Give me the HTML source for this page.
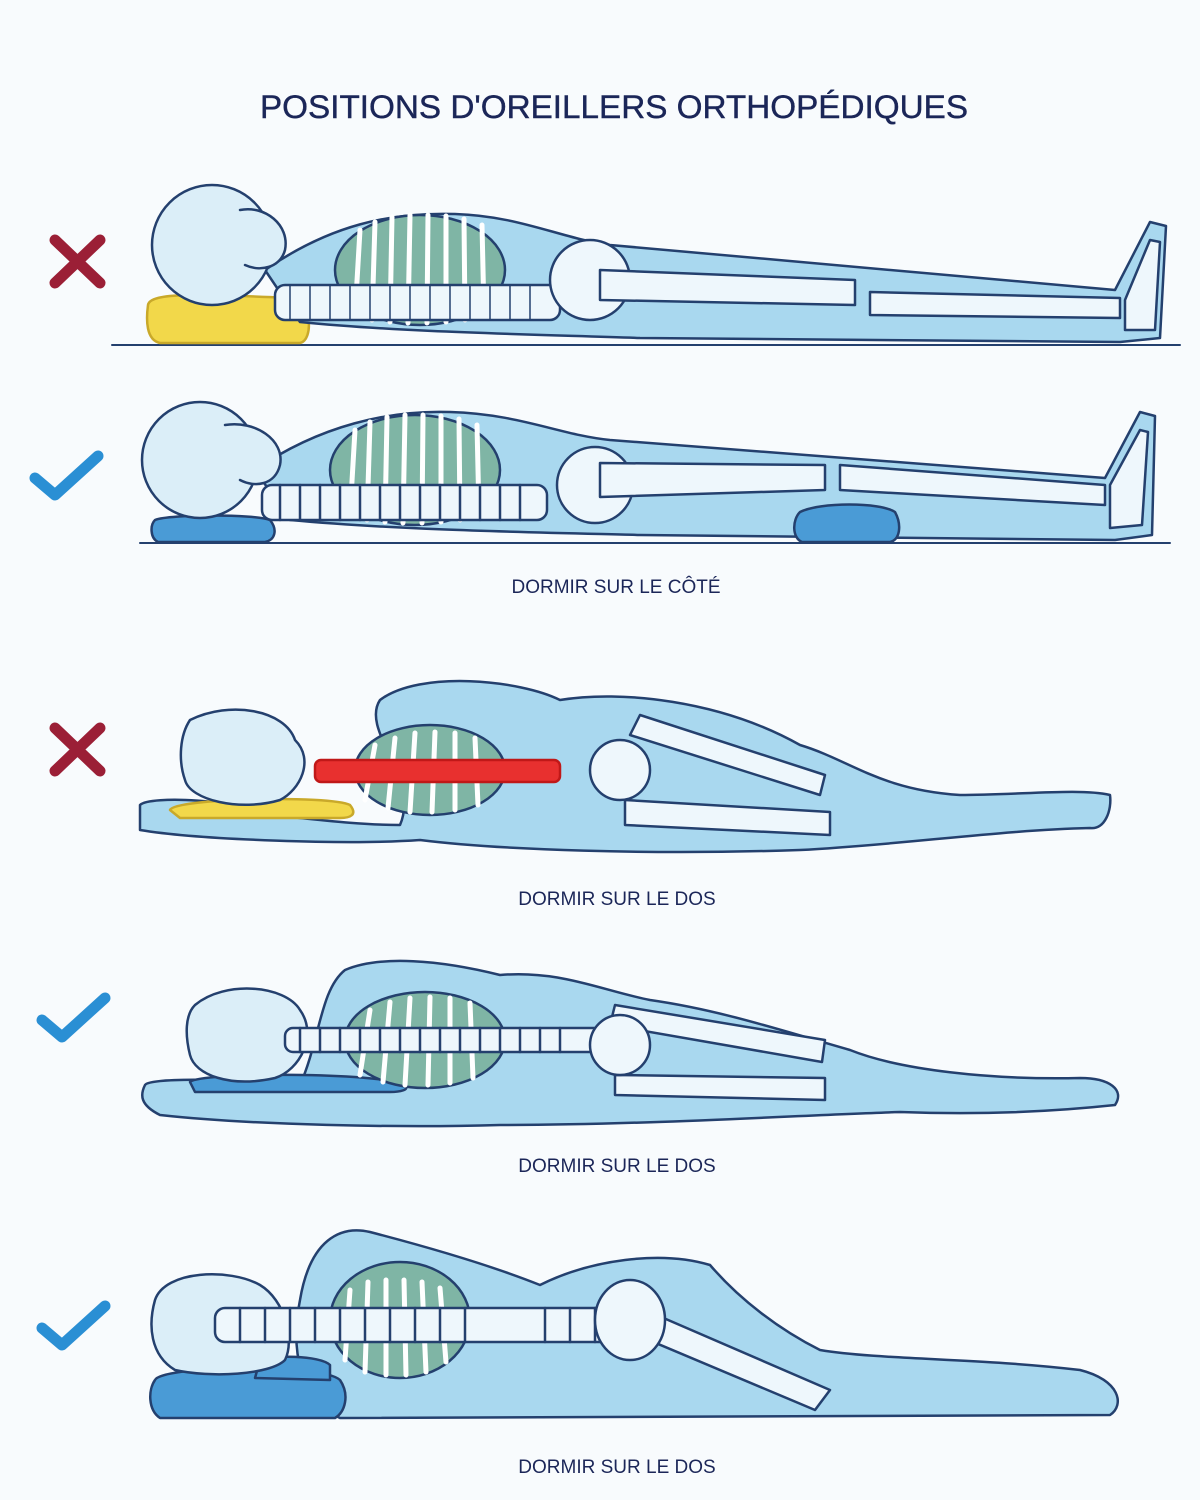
<!DOCTYPE html>
<html><head><meta charset="utf-8"><style>
html,body{margin:0;padding:0;background:#f8fbfd;}
svg{display:block}
text{font-family:"Liberation Sans",sans-serif;fill:#1b2658}
</style></head><body>
<svg width="1200" height="1500" viewBox="0 0 1200 1500" xmlns="http://www.w3.org/2000/svg">
<rect width="1200" height="1500" fill="#f8fbfd"/>
<text x="614" y="118" font-size="32" text-anchor="middle" textLength="708" lengthAdjust="spacingAndGlyphs" stroke="#1b2658" stroke-width="0.4">POSITIONS D'OREILLERS ORTHOPÉDIQUES</text>

<g stroke="#24406e" stroke-width="2.5" stroke-linejoin="round" stroke-linecap="round">
<!-- ===== Figure 1 ===== -->
<line x1="112" y1="345" x2="1180" y2="345" stroke-width="2"/>
<path d="M148,305 C150,292 200,294 290,298 C312,300 314,340 300,343 L160,343 C146,340 146,320 148,305Z" fill="#f2d84a" stroke="#c9a92a"/>
<path d="M265,270 C330,225 390,212 455,214 C520,216 560,238 610,245 L1115,290 L1150,222 L1166,226 L1160,338 L1120,342 L640,338 C520,334 400,332 300,322 Z" fill="#a9d8ef"/>
<circle cx="212" cy="245" r="60" fill="#dbeef8"/>
<path d="M240,210 C265,205 290,225 285,250 C280,268 260,272 245,265" fill="#dbeef8"/>
<ellipse cx="420" cy="270" rx="85" ry="55" fill="#7fb5a5"/>
<g stroke="#fff" stroke-width="5"><path d="M360,230 L355,315 M375,222 L372,320 M392,217 L390,322 M410,215 L408,323 M428,215 L427,323 M446,216 L446,322 M464,219 L465,320 M482,225 L484,314"/></g>
<rect x="275" y="285" width="285" height="35" rx="10" fill="#eef7fc"/>
<path d="M290,285 L290,320 M310,285 L310,320 M330,285 L330,320 M350,285 L350,320 M370,285 L370,320 M390,285 L390,320 M410,285 L410,320 M430,285 L430,320 M450,285 L450,320 M470,285 L470,320 M490,285 L490,320 M510,285 L510,320 M530,285 L530,320" stroke-width="1.5"/>
<ellipse cx="590" cy="280" rx="40" ry="40" fill="#eef7fc"/>
<path d="M600,270 L855,280 L855,305 L600,300 Z" fill="#eef7fc"/>
<path d="M870,292 L1120,298 L1120,318 L870,315 Z" fill="#eef7fc"/>
<path d="M1125,300 L1150,240 L1160,242 L1155,330 L1125,330 Z" fill="#eef7fc"/>

<!-- ===== Figure 2 ===== -->
<line x1="140" y1="543" x2="1170" y2="543" stroke-width="2"/>
<path d="M155,520 C170,514 255,514 270,520 C278,530 275,540 265,542 L158,542 C150,538 150,525 155,520Z" fill="#4a9bd6"/>
<path d="M255,470 C320,425 390,410 450,412 C520,414 560,435 610,440 L1105,478 L1140,412 L1155,416 L1152,535 L1115,540 L640,535 C520,532 400,530 290,520 Z" fill="#a9d8ef"/>
<path d="M800,512 C820,502 880,502 895,512 C902,525 900,540 890,542 L802,542 C792,538 792,520 800,512Z" fill="#4a9bd6"/>
<circle cx="200" cy="460" r="58" fill="#dbeef8"/>
<path d="M225,425 C255,420 285,440 280,465 C275,485 255,488 240,480" fill="#dbeef8"/>
<ellipse cx="415" cy="470" rx="85" ry="55" fill="#7fb5a5"/>
<g stroke="#fff" stroke-width="5"><path d="M355,430 L350,515 M370,422 L367,520 M387,417 L385,522 M405,415 L403,523 M423,415 L422,523 M441,416 L441,522 M459,419 L460,520 M477,425 L479,514"/></g>
<rect x="262" y="485" width="285" height="35" rx="10" fill="#eef7fc"/>
<path d="M280,485 L280,520 M300,485 L300,520 M320,485 L320,520 M340,485 L340,520 M360,485 L360,520 M380,485 L380,520 M400,485 L400,520 M420,485 L420,520 M440,485 L440,520 M460,485 L460,520 M480,485 L480,520 M500,485 L500,520 M520,485 L520,520"/>
<ellipse cx="595" cy="485" rx="38" ry="38" fill="#eef7fc"/>
<path d="M600,463 L825,465 L825,490 L600,497 Z" fill="#eef7fc"/>
<path d="M840,465 L1105,485 L1105,505 L840,490 Z" fill="#eef7fc"/>
<path d="M1110,485 L1140,430 L1148,432 L1142,525 L1110,528 Z" fill="#eef7fc"/>

<!-- ===== Figure 3 ===== -->
<path d="M140,805 C150,795 240,800 270,815 C320,820 360,825 400,825 C420,780 360,730 380,700 C420,670 520,680 560,700 C620,690 720,700 800,745 C850,760 880,790 960,795 C1020,795 1080,788 1110,795 C1112,810 1105,830 1090,828 C1000,830 900,845 800,850 C650,855 500,850 420,840 C350,845 200,840 140,830 Z" fill="#a9d8ef"/>
<path d="M170,810 C175,798 330,795 350,805 C358,815 350,818 340,818 L180,818 Z" fill="#f2d84a" stroke="#c9a92a"/>
<path d="M190,720 C230,700 285,710 295,740 C315,760 300,790 280,800 C240,812 190,800 185,780 C178,760 180,735 190,720Z" fill="#dbeef8"/>
<ellipse cx="430" cy="770" rx="75" ry="45" fill="#7fb5a5"/>
<g stroke="#fff" stroke-width="5"><path d="M375,745 L365,800 M395,738 L388,808 M415,733 L410,812 M435,732 L432,812 M455,733 L455,810 M475,738 L478,805"/></g>
<rect x="315" y="760" width="245" height="22" rx="6" fill="#e8302f" stroke="#c01818"/>
<path d="M640,715 L825,775 L820,795 L630,735 Z" fill="#eef7fc"/>
<path d="M625,800 L830,812 L830,835 L625,825 Z" fill="#eef7fc"/>
<ellipse cx="620" cy="770" rx="30" ry="30" fill="#eef7fc"/>

<!-- ===== Figure 4 ===== -->
<path d="M145,1085 C150,1078 220,1078 300,1085 C320,1040 320,990 345,970 C380,955 440,960 500,975 C560,970 600,990 650,1000 C720,1010 780,1030 850,1050 C900,1070 990,1080 1080,1078 C1110,1078 1125,1090 1115,1105 C1050,1112 980,1115 900,1112 C800,1115 650,1125 500,1125 C400,1128 250,1125 160,1115 C140,1105 140,1095 145,1085Z" fill="#a9d8ef"/>
<path d="M190,1082 C200,1072 380,1072 405,1085 C410,1090 400,1092 390,1092 L195,1092 Z" fill="#4a9bd6"/>
<path d="M195,1005 C225,980 285,985 300,1010 C318,1035 300,1070 275,1078 C230,1088 195,1075 190,1055 C185,1035 185,1015 195,1005Z" fill="#dbeef8"/>
<ellipse cx="425" cy="1040" rx="80" ry="48" fill="#7fb5a5"/>
<g stroke="#fff" stroke-width="5"><path d="M370,1010 L360,1075 M390,1002 L383,1082 M410,998 L405,1085 M430,997 L428,1085 M450,998 L450,1083 M470,1003 L473,1078"/></g>
<rect x="285" y="1028" width="320" height="24" rx="8" fill="#eef7fc"/>
<path d="M300,1028 L300,1052 M320,1028 L320,1052 M340,1028 L340,1052 M360,1028 L360,1052 M380,1028 L380,1052 M400,1028 L400,1052 M420,1028 L420,1052 M440,1028 L440,1052 M460,1028 L460,1052 M480,1028 L480,1052 M500,1028 L500,1052 M520,1028 L520,1052 M540,1028 L540,1052 M560,1028 L560,1052"/>
<path d="M615,1005 L825,1040 L822,1062 L610,1025 Z" fill="#eef7fc"/>
<path d="M615,1075 L825,1078 L825,1100 L615,1095 Z" fill="#eef7fc"/>
<ellipse cx="620" cy="1045" rx="30" ry="30" fill="#eef7fc"/>

<!-- ===== Figure 5 ===== -->
<path d="M300,1300 C310,1240 340,1225 370,1232 C420,1245 490,1265 540,1285 C590,1260 660,1250 710,1265 C740,1300 780,1330 820,1350 C880,1360 980,1358 1080,1370 C1120,1380 1125,1405 1110,1415 L340,1418 C300,1400 290,1350 300,1300Z" fill="#a9d8ef"/>
<path d="M155,1380 C160,1366 320,1362 340,1380 C350,1395 345,1412 335,1418 L160,1418 C148,1410 148,1390 155,1380Z" fill="#4a9bd6"/>
<path d="M260,1360 C270,1355 320,1355 330,1365 L330,1380 L255,1378 Z" fill="#4a9bd6"/>
<path d="M155,1300 C165,1270 230,1268 260,1285 C285,1300 295,1340 285,1360 C270,1375 210,1378 175,1370 C150,1355 148,1325 155,1300Z" fill="#dbeef8"/>
<ellipse cx="400" cy="1320" rx="70" ry="58" fill="#7fb5a5"/>
<g stroke="#fff" stroke-width="5"><path d="M350,1290 L345,1360 M368,1282 L365,1372 M386,1280 L386,1375 M404,1280 L406,1375 M422,1282 L426,1372 M440,1288 L446,1362"/></g>
<rect x="215" y="1308" width="420" height="34" rx="10" fill="#eef7fc"/>
<path d="M240,1308 L240,1342 M265,1308 L265,1342 M290,1308 L290,1342 M315,1308 L315,1342 M340,1308 L340,1342 M365,1308 L365,1342 M390,1308 L390,1342 M415,1308 L415,1342 M440,1308 L440,1342 M465,1308 L465,1342 M545,1308 L545,1342 M570,1308 L570,1342 M595,1308 L595,1342"/>
<path d="M645,1310 L830,1390 L815,1410 L625,1330 Z" fill="#eef7fc"/>
<ellipse cx="630" cy="1320" rx="35" ry="40" fill="#eef7fc"/>
</g>

<!-- icons -->
<g stroke="#9b1f36" stroke-width="11" stroke-linecap="round">
<path d="M55,240 L100,283 M100,240 L55,283"/>
<path d="M55,728 L100,771 M100,728 L55,771"/>
</g>
<g stroke="#2a8fd4" stroke-width="11" stroke-linecap="round" stroke-linejoin="round" fill="none">
<path d="M35,478 L55,495 L98,456"/>
<path d="M42,1020 L62,1037 L105,998"/>
<path d="M42,1328 L62,1345 L105,1306"/>
</g>

<text x="616" y="593" font-size="19" text-anchor="middle">DORMIR SUR LE CÔTÉ</text>
<text x="617" y="905" font-size="19" text-anchor="middle">DORMIR SUR LE DOS</text>
<text x="617" y="1172" font-size="19" text-anchor="middle">DORMIR SUR LE DOS</text>
<text x="617" y="1473" font-size="19" text-anchor="middle">DORMIR SUR LE DOS</text>
</svg>
</body></html>
